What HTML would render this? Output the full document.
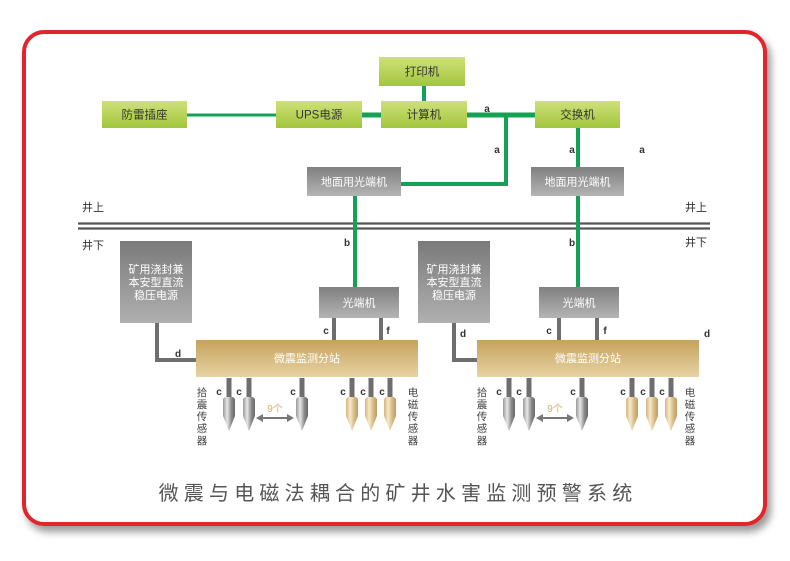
<!DOCTYPE html>
<html><head><meta charset="utf-8">
<style>
html,body{margin:0;padding:0;background:#fff;}
svg{display:block;}
text{font-family:"Liberation Sans","Noto Sans CJK SC",sans-serif;}
.cn{font-family:"Noto Sans CJK SC","WenQuanYi Zen Hei",sans-serif;}
.lbl{font-family:"Liberation Serif",serif;font-size:10px;font-weight:bold;fill:#333;}
</style></head><body>
<svg width="790" height="561" viewBox="0 0 790 561" xmlns="http://www.w3.org/2000/svg">
<defs>
  <linearGradient id="gG" x1="0" y1="0" x2="0" y2="1">
    <stop offset="0" stop-color="#cfe07a"/><stop offset="1" stop-color="#a2c63c"/>
  </linearGradient>
  <linearGradient id="gR" x1="0" y1="0" x2="0" y2="1">
    <stop offset="0" stop-color="#808080"/><stop offset="1" stop-color="#b4b4b4"/>
  </linearGradient>
  <linearGradient id="gR2" x1="0" y1="0" x2="0" y2="1">
    <stop offset="0" stop-color="#7a7a7a"/><stop offset="1" stop-color="#b0b0b0"/>
  </linearGradient>
  <linearGradient id="gO" x1="0" y1="0" x2="0" y2="1">
    <stop offset="0" stop-color="#c6a25c"/><stop offset="1" stop-color="#e7d3a4"/>
  </linearGradient>
  <linearGradient id="sG" x1="0" y1="0" x2="1" y2="0">
    <stop offset="0" stop-color="#9a9a9a"/><stop offset="0.35" stop-color="#e6e6e6"/><stop offset="0.7" stop-color="#8a8a8a"/><stop offset="1" stop-color="#6a6a6a"/>
  </linearGradient>
  <linearGradient id="sO" x1="0" y1="0" x2="1" y2="0">
    <stop offset="0" stop-color="#d4b680"/><stop offset="0.35" stop-color="#f6e8c8"/><stop offset="0.7" stop-color="#d6b984"/><stop offset="1" stop-color="#c09c60"/>
  </linearGradient>
  <filter id="sh" x="-5%" y="-5%" width="110%" height="115%">
    <feGaussianBlur in="SourceAlpha" stdDeviation="4"/>
    <feOffset dx="4" dy="6"/>
    <feComponentTransfer><feFuncA type="linear" slope="0.4"/></feComponentTransfer>
    <feMerge><feMergeNode/><feMergeNode in="SourceGraphic"/></feMerge>
  </filter>
  <g id="sg">
    <rect x="-2.5" y="0" width="5" height="19" fill="#6e6e6e"/>
    <path d="M-6,21 L-4,19 L4,19 L6,21 L6,38 L0,53 L-6,38 Z" fill="url(#sG)"/>
  </g>
  <g id="so">
    <rect x="-2.5" y="0" width="5" height="19" fill="#6e6e6e"/>
    <path d="M-6,21 L-4,19 L4,19 L6,21 L6,38 L0,53 L-6,38 Z" fill="url(#sO)"/>
  </g>
</defs>

<!-- border -->
<rect x="24" y="32" width="741" height="492" rx="20" ry="20" fill="#fff" stroke="#e0262b" stroke-width="4" filter="url(#sh)"/>

<!-- green connectors -->
<g stroke="#14a055" fill="none">
  <line x1="187" y1="115" x2="276" y2="115" stroke-width="3"/>
  <line x1="362" y1="115" x2="381" y2="115" stroke-width="5"/>
  <line x1="467" y1="115" x2="535" y2="115" stroke-width="5"/>
  <line x1="424" y1="86" x2="424" y2="101" stroke-width="4"/>
  <polyline points="506,115 506,184 401,184" stroke-width="4"/>
  <line x1="578" y1="128" x2="578" y2="167" stroke-width="4"/>
  <line x1="355" y1="196" x2="355" y2="287" stroke-width="4"/>
  <line x1="578" y1="196" x2="578" y2="287" stroke-width="4"/>
</g>

<!-- ground line -->
<line x1="78" y1="223.5" x2="710" y2="223.5" stroke="#555" stroke-width="2.2"/>
<line x1="78" y1="228.5" x2="710" y2="228.5" stroke="#555" stroke-width="2.2"/>
<line x1="355" y1="221" x2="355" y2="231" stroke="#14a055" stroke-width="4"/>
<line x1="578" y1="221" x2="578" y2="231" stroke="#14a055" stroke-width="4"/>

<!-- green boxes -->
<g class="cn" font-size="11.5" fill="#333" text-anchor="middle">
  <rect x="379" y="57" width="86" height="29" fill="url(#gG)"/>
  <text x="422" y="75.5">打印机</text>
  <rect x="102" y="101" width="85" height="27" fill="url(#gG)"/>
  <text x="144.5" y="118.5">防雷插座</text>
  <rect x="276" y="101" width="86" height="27" fill="url(#gG)"/>
  <text x="319" y="118.5">UPS电源</text>
  <rect x="381" y="101" width="86" height="27" fill="url(#gG)"/>
  <text x="424" y="118.5">计算机</text>
  <rect x="535" y="101" width="85" height="27" fill="url(#gG)"/>
  <text x="577.5" y="118.5">交换机</text>
</g>

<!-- grey boxes -->
<g class="cn" font-size="11" fill="#fff" text-anchor="middle">
  <rect x="307" y="167" width="94" height="29" fill="url(#gR)"/>
  <text x="354" y="185.5">地面用光端机</text>
  <rect x="531" y="167" width="93" height="29" fill="url(#gR)"/>
  <text x="577.5" y="185.5">地面用光端机</text>

  <rect x="120" y="241" width="72" height="82" fill="url(#gR2)"/>
  <text x="156" y="273">矿用浇封兼</text>
  <text x="156" y="286">本安型直流</text>
  <text x="156" y="299">稳压电源</text>
  <rect x="418" y="241" width="72" height="82" fill="url(#gR2)"/>
  <text x="454" y="273">矿用浇封兼</text>
  <text x="454" y="286">本安型直流</text>
  <text x="454" y="299">稳压电源</text>

  <rect x="319" y="287" width="80" height="31" fill="url(#gR)"/>
  <text x="359" y="306.5">光端机</text>
  <rect x="539" y="287" width="80" height="31" fill="url(#gR)"/>
  <text x="579" y="306.5">光端机</text>
</g>

<!-- grey connectors -->
<g stroke="#6e6e6e" stroke-width="4" fill="none">
  <line x1="334" y1="318" x2="334" y2="340"/>
  <line x1="381" y1="318" x2="381" y2="340"/>
  <line x1="559" y1="318" x2="559" y2="340"/>
  <line x1="597" y1="318" x2="597" y2="340"/>
  <polyline points="157,323 157,360 196,360"/>
  <polyline points="454,323 454,360 478,360"/>
</g>

<!-- stations -->
<rect x="196" y="340" width="222" height="37" fill="url(#gO)"/>
<rect x="477" y="340" width="222" height="37" fill="url(#gO)"/>
<g class="cn" font-size="11" fill="#fff" text-anchor="middle">
  <text x="307" y="362">微震监测分站</text>
  <text x="588" y="362">微震监测分站</text>
</g>

<!-- sensors -->
<use href="#sg" x="229" y="378"/>
<use href="#sg" x="249" y="378"/>
<use href="#sg" x="302" y="378"/>
<use href="#so" x="352" y="378"/>
<use href="#so" x="371" y="378"/>
<use href="#so" x="390" y="378"/>
<use href="#sg" x="509" y="378"/>
<use href="#sg" x="529" y="378"/>
<use href="#sg" x="582" y="378"/>
<use href="#so" x="632" y="378"/>
<use href="#so" x="652" y="378"/>
<use href="#so" x="671" y="378"/>

<!-- 9个 arrows -->
<g stroke="#777" stroke-width="2" fill="#777">
  <line x1="261" y1="418" x2="289" y2="418"/>
  <path d="M256,418 L263,414 L263,422 Z" stroke="none"/>
  <path d="M294,418 L287,414 L287,422 Z" stroke="none"/>
  <line x1="541" y1="418" x2="569" y2="418"/>
  <path d="M536,418 L543,414 L543,422 Z" stroke="none"/>
  <path d="M574,418 L567,414 L567,422 Z" stroke="none"/>
</g>
<g class="cn" font-size="10" fill="#d1b06e" text-anchor="middle">
  <text x="275" y="412">9个</text>
  <text x="555" y="412">9个</text>
</g>

<!-- vertical sensor labels -->
<g class="cn" font-size="10.5" fill="#444" text-anchor="middle">
  <text x="202" y="396">拾</text><text x="202" y="408">震</text><text x="202" y="420">传</text><text x="202" y="432">感</text><text x="202" y="444">器</text>
  <text x="413" y="396">电</text><text x="413" y="408">磁</text><text x="413" y="420">传</text><text x="413" y="432">感</text><text x="413" y="444">器</text>
  <text x="482" y="396">拾</text><text x="482" y="408">震</text><text x="482" y="420">传</text><text x="482" y="432">感</text><text x="482" y="444">器</text>
  <text x="690" y="396">电</text><text x="690" y="408">磁</text><text x="690" y="420">传</text><text x="690" y="432">感</text><text x="690" y="444">器</text>
</g>

<!-- letter labels -->
<g class="lbl" text-anchor="middle">
  <text x="487" y="112">a</text>
  <text x="497" y="153">a</text>
  <text x="572" y="153">a</text>
  <text x="642" y="153">a</text>
  <text x="347" y="246">b</text>
  <text x="572" y="246">b</text>
  <text x="326" y="334">c</text>
  <text x="388" y="334">f</text>
  <text x="549" y="334">c</text>
  <text x="605" y="334">f</text>
  <text x="178" y="357">d</text>
  <text x="463" y="337">d</text>
  <text x="707" y="337">d</text>
  <text x="219" y="395">c</text><text x="239" y="395">c</text><text x="293" y="395">c</text>
  <text x="343" y="395">c</text><text x="363" y="395">c</text><text x="382" y="395">c</text>
  <text x="499" y="395">c</text><text x="519" y="395">c</text><text x="573" y="395">c</text>
  <text x="623" y="395">c</text><text x="643" y="395">c</text><text x="662" y="395">c</text>
</g>

<!-- well labels -->
<g class="cn" font-size="11" fill="#333">
  <text x="82" y="211">井上</text>
  <text x="82" y="249">井下</text>
  <text x="685" y="211">井上</text>
  <text x="685" y="246">井下</text>
</g>

<!-- title -->
<text class="cn" x="398" y="500" font-size="20" fill="#555" text-anchor="middle" letter-spacing="5.2">微震与电磁法耦合的矿井水害监测预警系统</text>
</svg>
</body></html>
